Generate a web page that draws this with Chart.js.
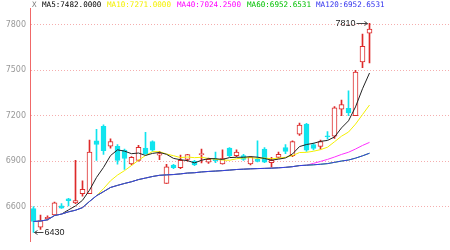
<!DOCTYPE html>
<html>
<head>
<meta charset="utf-8">
<script src="https://cdn.jsdelivr.net/npm/chart.js@4.4.1/dist/chart.umd.min.js"></script>
<style>
  html, body { margin: 0; padding: 0; background: #fff; }
  #wrap { width: 450px; height: 250px; }
</style>
</head>
<body>
<div id="wrap"><canvas id="kline" width="450" height="250"></canvas></div>
<script>
// 60 slots on the x axis, 49 of them filled
const slots = [1,2,3,4,5,6,7,8,9,10,11,12,13,14,15,16,17,18,19,20,21,22,23,24,25,26,27,28,29,30,
  31,32,33,34,35,36,37,38,39,40,41,42,43,44,45,46,47,48,49,50,51,52,53,54,55,56,57,58,59,60];

const open  = [6587,6465,6520,6545,6605,6652,6625,6685,6685,7035,7130,7000,6998,6973,6882,6906,6986,7029,6940,6753,
  6875,6857,6912,6900,6943,6894,6912,6882,6986,6937,6937,6882,6912,6980,6890,6925,6990,6937,7078,7145,
  7010,6998,7068,7065,7243,7249,7200,7555,7745];
const high  = [6600,6545,6540,6630,6620,6655,6906,6770,7040,7110,7140,7047,7010,6980,6930,7005,7090,7035,6965,6880,
  6880,6940,6945,6905,6980,6920,6960,6975,6990,6975,6945,6930,7035,6990,6925,6960,7010,7035,7151,7150,
  7020,7040,7095,7260,7304,7365,7500,7739,7810];
const low   = [6430,6450,6512,6540,6588,6605,6620,6670,6685,6906,6945,6986,6880,6845,6875,6900,6945,6965,6910,6753,
  6850,6850,6900,6870,6888,6885,6890,6880,6930,6930,6905,6875,6895,6890,6860,6920,6950,6930,7070,6965,
  6975,6980,7045,7050,7200,7200,7200,7518,7549];
const close = [6502,6508,6530,6625,6590,6640,6640,6715,6960,7010,6970,7030,6905,6918,6925,6992,6950,6973,6950,6863,
  6857,6906,6943,6875,6950,6912,6903,6918,6937,6960,6912,6925,6899,6894,6905,6945,6965,7029,7139,6973,
  6985,7029,7060,7253,7273,7218,7488,7659,7772];

const ma5 = [null,null,null,null,6551,6578.6,6605,6642,6709,6793,6859,6937,6975,6966.6,6949.6,6954,6938,6951.6,6958,6945.6,
  6918.6,6909.8,6903.8,6888.8,6906.2,6917.2,6916.6,6911.6,6924,6926,6926,6930.4,6926.6,6918,6907,6913.6,6921.6,6947.6,6996.6,7010.2,
  7018.2,7031,7037.2,7060,7120,7166.6,7258.4,7378.2,7482];
const ma10 = [null,null,null,null,null,null,null,null,null,6672,6718.8,6771,6808.5,6837.8,6871.3,6906.5,6937.5,6963.3,6962.3,6947.6,
  6936.3,6923.9,6927.7,6923.4,6925.9,6917.9,6913.2,6907.7,6906.4,6916.1,6921.6,6923.5,6919.1,6921,6916.5,6919.8,6926,6937.1,6957.3,6958.6,
  6965.9,6976.3,6992.4,7028.3,7065.1,7092.4,7144.7,7207.7,7271];
const ma40 = [6502,6505,6513.3,6541.3,6551,6565.8,6576.4,6593.8,6634.4,6672,6699.1,6726.7,6740.4,6753.1,6764.5,6778.8,6788.8,6799.1,6807,6809.8,
  6812,6816.3,6821.8,6824,6829.1,6832.3,6834.9,6837.9,6841.3,6845.2,6847.4,6849.8,6851.3,6852.6,6854.1,6856.6,6859.5,6864,6871,6873.6,
  6885.7,6898.7,6911.9,6927.6,6944.7,6959.2,6980.4,7004,7024.3];
const ma60 = [6502,6505,6513.3,6541.3,6551,6565.8,6576.4,6593.8,6634.4,6672,6699.1,6726.7,6740.4,6753.1,6764.5,6778.8,6788.8,6799.1,6807,6809.8,
  6812,6816.3,6821.8,6824,6829.1,6832.3,6834.9,6837.9,6841.3,6845.2,6847.4,6849.8,6851.3,6852.6,6854.1,6856.6,6859.5,6864,6871,6873.6,
  6876.3,6879.9,6884.1,6892.5,6901,6907.8,6920.2,6935.6,6952.7];
const ma120 = [6502,6505,6513.3,6541.3,6551,6565.8,6576.4,6593.8,6634.4,6672,6699.1,6726.7,6740.4,6753.1,6764.5,6778.8,6788.8,6799.1,6807,6809.8,
  6812,6816.3,6821.8,6824,6829.1,6832.3,6834.9,6837.9,6841.3,6845.2,6847.4,6849.8,6851.3,6852.6,6854.1,6856.6,6859.5,6864,6871,6873.6,
  6876.3,6879.9,6884.1,6892.5,6901,6907.8,6920.2,6935.6,6952.7];

const yTicks = [6600, 6900, 7200, 7500, 7800];
const maLabels = ['MA5:7482.0000', 'MA10:7271.0000', 'MA40:7024.2500', 'MA60:6952.6531', 'MA120:6952.6531'];
const maColors = ['#000000', '#f4f000', '#ff00ff', '#00c000', '#3333ee'];
const maLabelX = [42, 107, 177, 247, 316];
const maxLabel = '7810';
const minLabel = '6430';

const RED = '#dd2a2a';
const CYAN = '#10e4ee';

const isUp = close.map((c, i) => c >= open[i]);

// legend text across the top and the max / min markers
const overlay = {
    id: 'overlay',
    afterDraw(chart) {
        const ctx = chart.ctx;
        const xs = chart.scales.x, ys = chart.scales.y;
        ctx.save();
        ctx.textBaseline = 'middle';
        ctx.font = '7.6px "DejaVu Sans Mono"';
        ctx.fillStyle = '#777';
        ctx.fillText('X', 32, 5);
        maLabels.forEach((t, i) => {
            ctx.fillStyle = maColors[i];
            ctx.fillText(t, maLabelX[i], 5);
        });

        ctx.font = '9px "Liberation Sans"';
        ctx.fillStyle = '#222';
        ctx.strokeStyle = '#444';
        ctx.lineWidth = 1;

        // highest point
        let hi = high.indexOf(Math.max(...high));
        let hx = xs.getPixelForValue(hi) - 2, hy = Math.round(ys.getPixelForValue(high[hi])) + 0.5;
        ctx.beginPath();
        ctx.moveTo(hx - 11, hy); ctx.lineTo(hx, hy);
        ctx.moveTo(hx - 3, hy - 2); ctx.lineTo(hx, hy); ctx.lineTo(hx - 3, hy + 2);
        ctx.stroke();
        ctx.textAlign = 'right';
        ctx.fillText(maxLabel, hx - 12, hy);

        // lowest point
        let lo = low.indexOf(Math.min(...low));
        let lx = xs.getPixelForValue(lo) + 1, ly = Math.round(ys.getPixelForValue(low[lo])) + 0.5;
        ctx.beginPath();
        ctx.moveTo(lx, ly); ctx.lineTo(lx + 9, ly);
        ctx.moveTo(lx + 3, ly - 2); ctx.lineTo(lx, ly); ctx.lineTo(lx + 3, ly + 2);
        ctx.stroke();
        ctx.textAlign = 'left';
        ctx.fillText(minLabel, lx + 10, ly);
        ctx.restore();
    }
};

function maLine(data, color, order) {
    return {
        type: 'line', data: data, borderColor: color, borderWidth: 1,
        pointRadius: 0, fill: false, tension: 0, order: order
    };
}

new Chart(document.getElementById('kline'), {
    type: 'bar',
    data: {
        labels: slots,
        datasets: [
            maLine(ma120, '#3a3ae6', 0),
            maLine(ma60, '#22c322', 0.1),
            maLine(ma40, '#ff30ff', 0.2),
            maLine(ma5, '#222222', 0.3),
            maLine(ma10, '#f4f000', 0.4),
            {
                data: open.map((o, i) => [o, close[i]]),
                backgroundColor: isUp.map(u => u ? '#ffffff' : CYAN),
                borderColor: isUp.map(u => u ? RED : CYAN),
                borderWidth: 1,
                borderSkipped: false,
                barThickness: 5,
                grouped: false,
                order: 2
            },
            {
                data: low.map((l, i) => [l, high[i]]),
                backgroundColor: isUp.map(u => u ? RED : CYAN),
                borderWidth: 0,
                barThickness: 1,
                grouped: false,
                order: 3
            }
        ]
    },
    options: {
        responsive: false,
        animation: false,
        events: [],
        layout: { padding: 0 },
        plugins: { legend: { display: false }, tooltip: { enabled: false } },
        scales: {
            x: { display: false, offset: true, grid: { display: false } },
            y: {
                min: 6372,
                max: 7906,
                afterFit: function (s) { s.width = 30; },
                afterBuildTicks: function (s) { s.ticks = yTicks.map(v => ({ value: v })); },
                ticks: {
                    color: '#999', font: { size: 8, family: 'DejaVu Sans' }, padding: 4,
                    callback: function (v) { return String(v); }
                },
                grid: { color: 'rgba(238,120,120,0.6)', drawTicks: false, lineWidth: 1 },
                border: { color: '#f06868', width: 1, dash: [1, 2] }
            }
        }
    },
    plugins: [overlay]
});
</script>
</body>
</html>
